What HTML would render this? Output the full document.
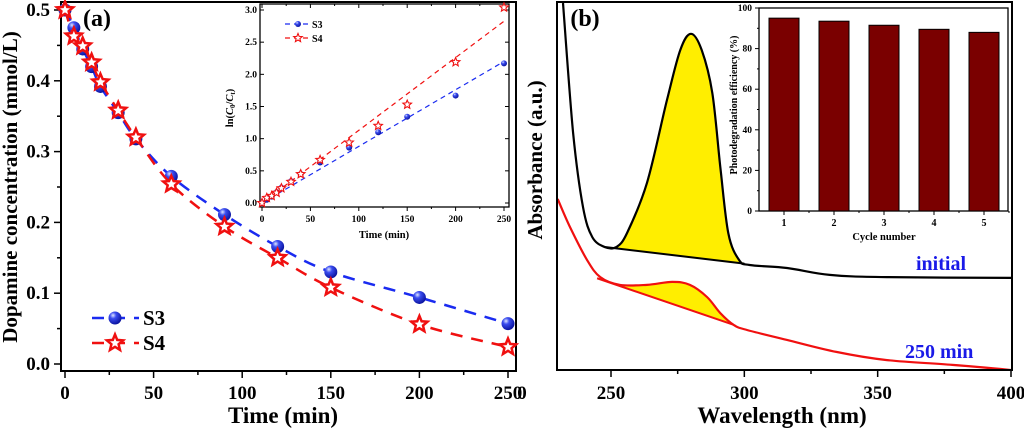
<!DOCTYPE html>
<html><head><meta charset="utf-8">
<style>
html,body{margin:0;padding:0;background:#fff;}
svg{display:block;font-family:"Liberation Serif",serif;font-weight:bold;}
</style></head>
<body>
<svg id="fig" width="1024" height="429" viewBox="0 0 1024 429" xmlns="http://www.w3.org/2000/svg">
<defs>
<radialGradient id="ball" cx="35%" cy="30%" r="70%">
<stop offset="0" stop-color="#dfe6ff"/><stop offset="0.35" stop-color="#3b4df0"/><stop offset="1" stop-color="#0b14a0"/>
</radialGradient>
</defs>
</svg>
<script>
// ---------- Panel (a) data ----------
const timeA = [0,5,10,15,20,30,40,60,90,120,150,200,250];
const concS3 = [0.5,0.475,0.445,0.42,0.392,0.355,0.318,0.265,0.211,0.166,0.13,0.094,0.057];
const concS4 = [0.5,0.463,0.449,0.426,0.398,0.358,0.32,0.254,0.194,0.15,0.108,0.056,0.024];
const xTicksA = [0,50,100,150,200,250];
const yTicksA = [0.0,0.1,0.2,0.3,0.4,0.5];
// inset (a)
const lnS3 = [0,0.05,0.1,0.17,0.24,0.34,0.45,0.63,0.86,1.1,1.34,1.67,2.17];
const lnS4 = [0,0.08,0.11,0.16,0.23,0.33,0.45,0.67,0.94,1.2,1.53,2.19,3.04];
const fitSlopes = [0.0088,0.0113];
const yTicksInA = [0,0.5,1.0,1.5,2.0,2.5,3.0];
// ---------- Panel (b) data ----------
const wlInit = [232,235.8,239.5,243,247.7,252,256,263.5,271,276,280,284,288,291,294,298,302,316,332,353.5,400];
const absInit = [1.0,0.646,0.444,0.362,0.335,0.335,0.373,0.51,0.736,0.872,0.916,0.872,0.755,0.553,0.373,0.30,0.286,0.278,0.259,0.253,0.251];
const baseInitWl = [247.7,300];
const baseInitAbs = [0.335,0.29];
const wl250 = [230,234.6,241,246,253.4,263.5,273,279.6,286,291,296,301,316,334.7,353.5,378,400];
const abs250 = [0.466,0.39,0.30,0.253,0.232,0.232,0.24,0.232,0.199,0.155,0.123,0.109,0.082,0.049,0.027,0.014,0.0];
const base250Wl = [244.8,296];
const base250Abs = [0.25,0.123];
const xTicksB = [250,300,350,400];
// inset (b)
const cycles = [1,2,3,4,5];
const efficiency = [95,93.5,91.5,89.5,88];
const yTicksInB = [0,20,40,60,80,100];

const svg = document.getElementById('fig');
const NS = 'http://www.w3.org/2000/svg';
function mk(tag, attrs, parent){
  const e = document.createElementNS(NS, tag);
  for (const k in attrs) e.setAttribute(k, attrs[k]);
  (parent||svg).appendChild(e);
  return e;
}
function txt(s, x, y, size, anchor, parent, fill){
  const t = mk('text', {x:x, y:y, 'font-size':size, 'text-anchor':anchor||'middle', fill:fill||'#000'}, parent);
  t.textContent = s;
  return t;
}
function starPts(cx, cy, R){
  const r = R*0.45; let p = [];
  for (let i=0;i<10;i++){
    const a = -Math.PI/2 + i*Math.PI/5;
    const rr = i%2===0 ? R : r;
    p.push((cx+rr*Math.cos(a)).toFixed(1)+','+(cy+rr*Math.sin(a)).toFixed(1));
  }
  return p.join(' ');
}
// Catmull-Rom smooth path through pixel points
function smooth(pts, move){
  let d = (move===false?' L':'M') + pts[0][0].toFixed(1)+','+pts[0][1].toFixed(1);
  for (let i=0;i<pts.length-1;i++){
    const p0 = pts[i-1]||pts[i], p1 = pts[i], p2 = pts[i+1], p3 = pts[i+2]||p2;
    const c1 = [p1[0]+(p2[0]-p0[0])/6, p1[1]+(p2[1]-p0[1])/6];
    const c2 = [p2[0]-(p3[0]-p1[0])/6, p2[1]-(p3[1]-p1[1])/6];
    d += ' C'+c1[0].toFixed(1)+','+c1[1].toFixed(1)+' '+c2[0].toFixed(1)+','+c2[1].toFixed(1)+' '+p2[0].toFixed(1)+','+p2[1].toFixed(1);
  }
  return d;
}

// ===== Panel (a) main =====
const ax = t => 65 + t*(508-65)/250;
const ay = v => 364 - v*(364-10)/0.5;
const gA = mk('g', {});


let frame = mk('rect', {x:61, y:2, width:455, height:369, fill:'none', stroke:'#000', 'stroke-width':2}, gA);


for (let t=0; t<=250; t+=25){
  const major = t%50===0;
  mk('line', {x1:ax(t), x2:ax(t), y1:371, y2:major?378:375, stroke:'#000', 'stroke-width':1.5}, gA);
}
xTicksA.forEach(t => {
  const l = txt(String(t), ax(t), 399, 19, 'middle', gA);
  
  
});
for (let v=0; v<=0.5001; v+=0.05){
  const major = Math.round(v*100)%10===0;
  mk('line', {x1:61, x2:major?54:57, y1:ay(v), y2:ay(v), stroke:'#000', 'stroke-width':1.5}, gA);
}
yTicksA.forEach(v => {
  const l = txt(v.toFixed(1), 50, ay(v)+6, 19, 'end', gA);
  
  
});
let xt = txt('Time (min)', 283, 423, 23, 'middle', gA);


let yt = txt('Dopamine concentration (mmol/L)', 0, 0, 21, 'middle', gA);
yt.setAttribute('transform', 'translate(17,187) rotate(-90)');


let pa = txt('(a)', 97, 26, 24, 'middle', gA);



function series(ts, vs, fx, fy, color, kind, size, parent, name){
  const line = mk('path', {d: smooth(ts.map((t,i)=>[fx(t), fy(vs[i])])), fill:'none', stroke:color, 'stroke-width':size>5?2.5:1.3, 'stroke-dasharray':size>5?'12,9':'5,4'}, parent);
  
  
  ts.forEach((t,i) => {
    let m;
    if (kind==='ball') m = mk('circle', {cx:fx(t), cy:fy(vs[i]), r:size, fill:'url(#ball)'}, parent);
    else m = mk('polygon', {points:starPts(fx(t), fy(vs[i]), size), fill:'#fff', stroke:'#f01010', 'stroke-width':size>5?2.5:1.2}, parent);
    
    
  });
}
series(timeA, concS3, ax, ay, '#1a2bf0', 'ball', 6.5, gA, 's3');
series(timeA, concS4, ax, ay, '#f01010', 'star', 8.5, gA, 's4');
// legend a
[['S3','#1a2bf0','ball',318],['S4','#f01010','star',343]].forEach(([n,c,k,y]) => {
  const lg = mk('g', {}, gA);
  
  
  mk('line', {x1:92, x2:139, y1:y, y2:y, stroke:c, 'stroke-width':2.5, 'stroke-dasharray':'12,9'}, lg);
  if (k==='ball') mk('circle', {cx:115, cy:y, r:6.5, fill:'url(#ball)'}, lg);
  else mk('polygon', {points:starPts(115, y, 8.5), fill:'#fff', stroke:'#f01010', 'stroke-width':2.5}, lg);
  txt(n, 143, y+7, 21, 'start', lg);
});

// ===== Inset (a) =====
const ix = t => 262 + t*(504-262)/250;
const iy = v => 203 - v*(203-10)/3;
const gI = mk('g', {}, gA);


mk('rect', {x:260, y:4, width:249, height:203, fill:'#fff', stroke:'#000', 'stroke-width':1.3}, gI);
for (let t=0; t<=250; t+=25){
  mk('line', {x1:ix(t), x2:ix(t), y1:207, y2:t%50===0?211:209, stroke:'#000', 'stroke-width':1}, gI);
  mk('line', {x1:ix(t), x2:ix(t), y1:4, y2:t%50===0?8:6, stroke:'#000', 'stroke-width':1}, gI);
}
xTicksA.forEach(t => txt(String(t), ix(t), 222, 9.5, 'middle', gI));
yTicksInA.forEach(v => {
  mk('line', {x1:260, x2:264, y1:iy(v), y2:iy(v), stroke:'#000', 'stroke-width':1}, gI);
  mk('line', {x1:509, x2:505, y1:iy(v), y2:iy(v), stroke:'#000', 'stroke-width':1}, gI);
  txt(v.toFixed(1), 257, iy(v)+3, 9.5, 'end', gI);
});
txt('Time (min)', 384, 238, 10.5, 'middle', gI);
const ilab = mk('text', {'font-size':10.5, 'text-anchor':'middle', transform:'translate(233,108) rotate(-90)'}, gI);
ilab.innerHTML = 'ln(<tspan font-style="italic">C</tspan><tspan font-size="7" dy="2">0</tspan><tspan dy="-2">/</tspan><tspan font-style="italic">C</tspan><tspan font-size="7" dy="2">t</tspan><tspan dy="-2">)</tspan>';


[[fitSlopes[0],'#1a2bf0'],[fitSlopes[1],'#f01010']].forEach(([s,c]) => {
  const f = mk('line', {x1:ix(0), y1:iy(0), x2:ix(250), y2:iy(s*250), stroke:c, 'stroke-width':1.2, 'stroke-dasharray':'5,4'}, gI);
  
  
});
timeA.forEach((t,i) => {
  const b = mk('circle', {cx:ix(t), cy:iy(lnS3[i]), r:3, fill:'url(#ball)'}, gI);
  
  
  const s = mk('polygon', {points:starPts(ix(t), iy(lnS4[i]), 4.5), fill:'#fff', stroke:'#f01010', 'stroke-width':1.1}, gI);
  
  
});
[['S3','#1a2bf0','ball',24],['S4','#f01010','star',38]].forEach(([n,c,k,y]) => {
  const lg = mk('g', {}, gI);
  
  
  mk('line', {x1:285, x2:309, y1:y, y2:y, stroke:c, 'stroke-width':1.2, 'stroke-dasharray':'5,4'}, lg);
  if (k==='ball') mk('circle', {cx:298, cy:y, r:3, fill:'url(#ball)'}, lg);
  else mk('polygon', {points:starPts(298, y, 4.5), fill:'#fff', stroke:'#f01010', 'stroke-width':1.1}, lg);
  txt(n, 312, y+4, 10, 'start', lg);
});

// ===== Panel (b) =====
const bx = w => 611 + (w-250)*(1011-611)/150;
const by = a => 370 - a*367;
const gB = mk('g', {});


const clip = mk('clipPath', {id:'clipb'}, gB);
mk('rect', {x:557, y:2, width:455, height:368}, clip);
const pb = mk('g', {'clip-path':'url(#clipb)'}, gB);
function sub(ws, as, w0, w1){
  const r=[]; ws.forEach((w,i)=>{ if (w>=w0-0.01 && w<=w1+0.01) r.push([bx(w),by(as[i])]); }); return r;
}
function fillArea(ws, as, bw, ba, name){
  const top = sub(ws, as, bw[0], bw[1]);
  const d = smooth(top) + ' L'+bx(bw[1])+','+by(ba[1])+' L'+bx(bw[0])+','+by(ba[0])+' Z';
  const f = mk('path', {d:d, fill:'#ffee00', stroke:'none'}, pb);
  
  
}
fillArea(wlInit, absInit, baseInitWl, baseInitAbs, 'peak-fill-initial');
fillArea(wl250, abs250, [253.4,296], [0.227,0.123], 'peak-fill-250min');
function curve(ws, as, color, name){
  const c = mk('path', {d: smooth(ws.map((w,i)=>[bx(w), by(as[i])])), fill:'none', stroke:color, 'stroke-width':2.2, 'stroke-linejoin':'round'}, pb);
  
  
}
curve(wlInit, absInit, '#000', 'spectrum-initial');
curve(wl250, abs250, '#f01010', 'spectrum-250min');
let bl1 = mk('line', {x1:bx(baseInitWl[0]), y1:by(baseInitAbs[0]), x2:bx(baseInitWl[1]), y2:by(baseInitAbs[1]), stroke:'#000', 'stroke-width':2}, pb);


let bl2 = mk('line', {x1:bx(base250Wl[0]), y1:by(base250Abs[0]), x2:bx(base250Wl[1]), y2:by(base250Abs[1]), stroke:'#f01010', 'stroke-width':2}, pb);


let fb = mk('rect', {x:557, y:2, width:455, height:368, fill:'none', stroke:'#000', 'stroke-width':2}, gB);


for (let w=250; w<=400; w+=25){
  mk('line', {x1:bx(w), x2:bx(w), y1:370, y2:w%50===0?377:374, stroke:'#000', 'stroke-width':1.5}, gB);
}
xTicksB.forEach(w => {
  const l = txt(String(w), bx(w), 399, 19, 'middle', gB);
  
  
});
txt('0', 522, 399, 19, 'middle', gB);
let xtb = txt('Wavelength (nm)', 782, 423, 23, 'middle', gB);


let ytb = txt('Absorbance (a.u.)', 0, 0, 21, 'middle', gB);
ytb.setAttribute('transform', 'translate(542,160) rotate(-90)');


let pbl = txt('(b)', 585, 26, 24, 'middle', gB);


let li = txt('initial', 916, 270, 20, 'start', gB, '#1a1ae8');


let l250 = txt('250 min', 905, 358, 20, 'start', gB, '#1a1ae8');



// ===== Inset (b) bar chart =====
const cx = c => 784 + (c-1)*50;
const cy = v => 211 - v*(211-8)/100;
const gC = mk('g', {}, gB);


mk('rect', {x:759, y:8, width:249, height:203, fill:'#fff', stroke:'#000', 'stroke-width':1.3}, gC);
cycles.forEach((c,i) => {
  const b = mk('rect', {x:cx(c)-15, y:cy(efficiency[i]), width:30, height:cy(0)-cy(efficiency[i]), fill:'#7a0000', stroke:'#000', 'stroke-width':1}, gC);
  
  
  mk('line', {x1:cx(c), x2:cx(c), y1:211, y2:215, stroke:'#000', 'stroke-width':1}, gC);
  txt(String(c), cx(c), 226, 10, 'middle', gC);
});
for (let c=1.5; c<5.6; c+=1) mk('line', {x1:cx(c), x2:cx(c), y1:211, y2:213, stroke:'#000', 'stroke-width':1}, gC);
yTicksInB.forEach(v => {
  mk('line', {x1:759, x2:755, y1:cy(v), y2:cy(v), stroke:'#000', 'stroke-width':1}, gC);
  txt(String(v), 752, cy(v)+3, 9.5, 'end', gC);
});
for (let v=10; v<100; v+=20) mk('line', {x1:759, x2:757, y1:cy(v), y2:cy(v), stroke:'#000', 'stroke-width':1}, gC);
let cxl = txt('Cycle number', 884, 240, 10.5, 'middle', gC);


let cyl = txt('Photodegradation efficiency (%)', 0, 0, 10, 'middle', gC);
cyl.setAttribute('transform', 'translate(737,105) rotate(-90)');


</script>
</body></html>
